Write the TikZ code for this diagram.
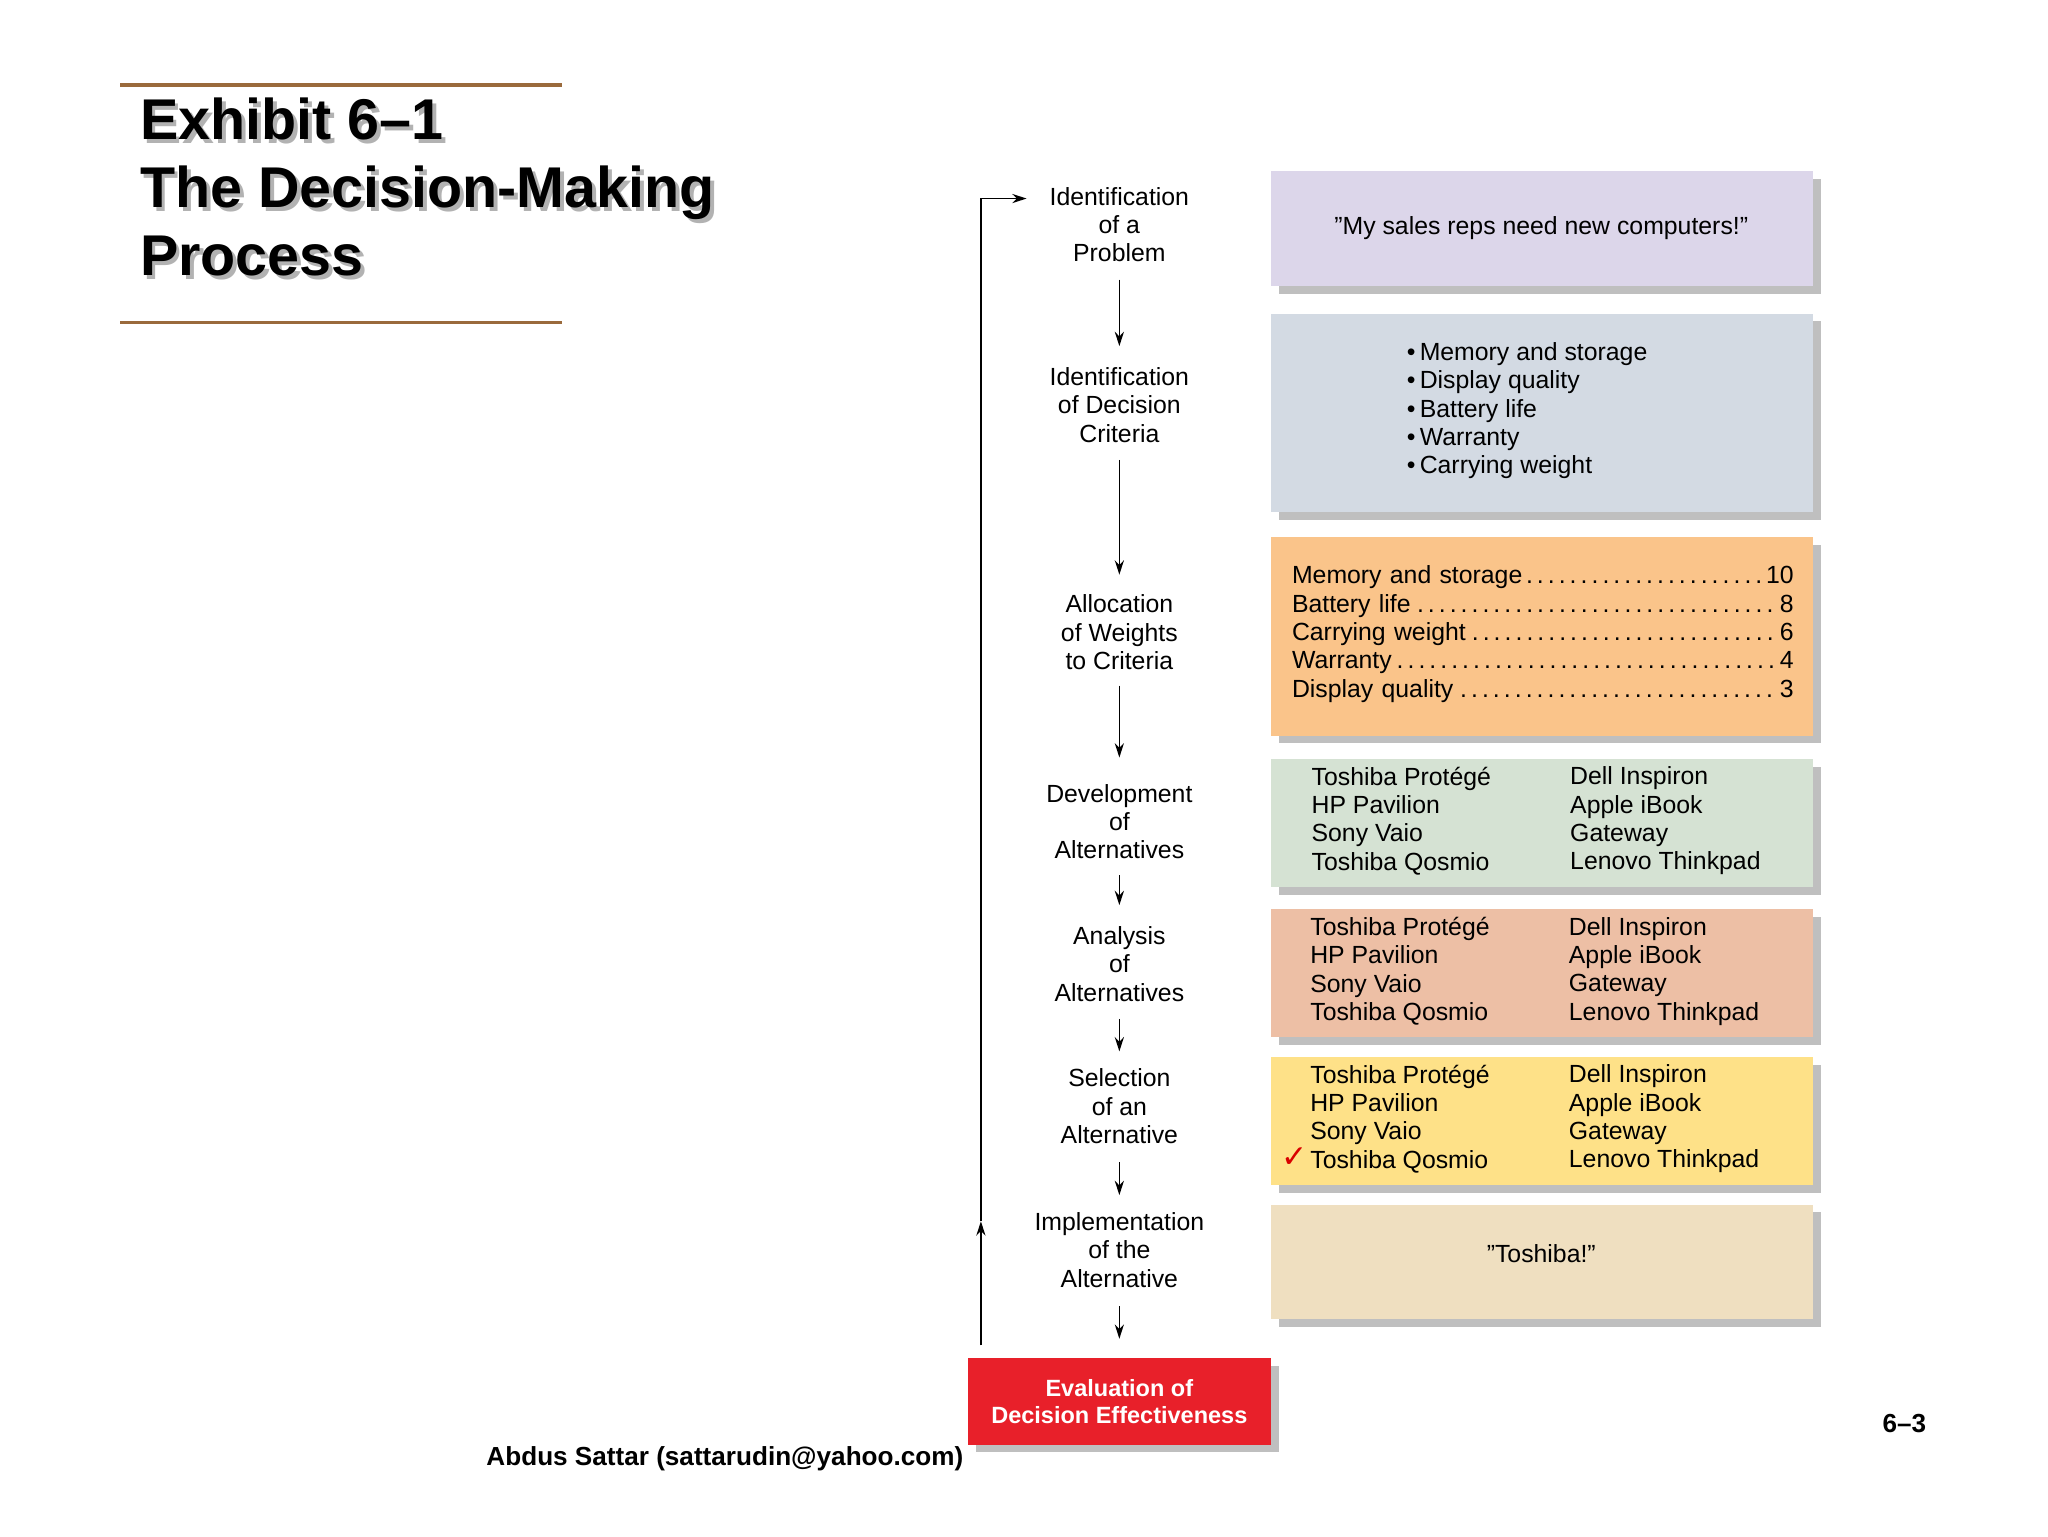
\documentclass[tikz,border=0pt]{standalone}
\usepackage{fontspec}
\setmainfont{Liberation Sans}
\newfontfamily\dejavu{DejaVu Sans}
\usetikzlibrary{arrows.meta}
\definecolor{brownrule}{HTML}{9A6A3C}
\definecolor{cA}{HTML}{DCD6EA}
\definecolor{cB}{HTML}{D3DAE3}
\definecolor{cC}{HTML}{FAC48A}
\definecolor{cD}{HTML}{D5E2D3}
\definecolor{cE}{HTML}{EDBFA5}
\definecolor{cF}{HTML}{FEE188}
\definecolor{cG}{HTML}{EFDFC0}
\definecolor{cRed}{HTML}{E8202A}
\tikzset{
 lbl/.style={align=center,font=\fontsize{19}{21.7}\selectfont,inner sep=0pt},
 txt/.style={align=left,font=\fontsize{19}{21.7}\selectfont,inner sep=0pt,anchor=north west},
 arr/.style={-{Stealth[length=11pt,width=7pt]},line width=1.3pt},
 shad/.style={fill=black!25,draw=none},
}
\newcommand{\pbox}[4]{% name, y1, y2, color
 \fill[shad] (979,#2+6) rectangle (1394,#3+6);
 \node[fill=#4,draw=none,minimum width=415pt,minimum height={(#3-#2)*1pt},inner sep=0pt,anchor=north west] (#1) at (973,#2) {};}
\begin{document}
\begin{tikzpicture}[x=1pt,y=-1pt]
\useasboundingbox (0,0) rectangle (1568,1176);
\fill[white] (0,0) rectangle (1568,1176);
% title
\draw[brownrule,line width=2.5pt] (92,65) -- (430,65);
\draw[brownrule,line width=2.5pt] (92,247) -- (430,247);
\node[anchor=north west,align=left,font=\bfseries\fontsize{44}{52}\selectfont,text=black!30,inner sep=0pt] at (110,78) {Exhibit 6–1\\The Decision-Making\\Process};
\node[anchor=north west,align=left,font=\bfseries\fontsize{44}{52}\selectfont,inner sep=0pt] (title) at (107,75) {Exhibit 6–1\\The Decision-Making\\Process};
% boxes
\pbox{b1}{131}{219}{cA}
\pbox{b2}{240}{392}{cB}
\pbox{b3}{411}{563}{cC}
\pbox{b4}{581}{679}{cD}
\pbox{b5}{696}{794}{cE}
\pbox{b6}{809}{907}{cF}
\pbox{b7}{922}{1010}{cG}
\node[lbl] (t1) at (1180,175) {"My sales reps need new computers!"};
\node[txt] (t2) at (1077,262) {•\,Memory and storage\\•\,Display quality\\•\,Battery life\\•\,Warranty\\•\,Carrying weight};
\node[txt,text width=384pt] (t3) at (989,433) {Memory and storage\dotfill10\\Battery life\dotfill8\\Carrying weight\dotfill6\\Warranty\dotfill4\\Display quality\dotfill3};
\node[txt] (t4a) at (1004,587) {Toshiba Protégé\\HP Pavilion\\Sony Vaio\\Toshiba Qosmio};
\node[txt] (t4b) at (1202,587) {Dell Inspiron\\Apple iBook\\Gateway\\Lenovo Thinkpad};
\node[txt] (t5a) at (1003,702) {Toshiba Protégé\\HP Pavilion\\Sony Vaio\\Toshiba Qosmio};
\node[txt] (t5b) at (1201,702) {Dell Inspiron\\Apple iBook\\Gateway\\Lenovo Thinkpad};
\node[txt] (t6a) at (1003,815) {Toshiba Protégé\\HP Pavilion\\Sony Vaio\\Toshiba Qosmio};
\node[txt] (t6b) at (1201,815) {Dell Inspiron\\Apple iBook\\Gateway\\Lenovo Thinkpad};
\node[inner sep=0pt,text=red!85!black,font=\dejavu\fontsize{24}{24}\selectfont] (chk) at (991,886) {✓};
\node[lbl] (t7) at (1180,960) {"Toshiba!"};
% step labels
\node[lbl] (s1) at (857,172) {Identification\\of a\\Problem};
\node[lbl] (s2) at (857,310) {Identification\\of Decision\\Criteria};
\node[lbl] (s3) at (857,484) {Allocation\\of Weights\\to Criteria};
\node[lbl] (s4) at (857,629) {Development\\of\\Alternatives};
\node[lbl] (s5) at (857,738) {Analysis\\of\\Alternatives};
\node[lbl] (s6) at (857,847) {Selection\\of an\\Alternative};
\node[lbl] (s7) at (857,957) {Implementation\\of the\\Alternative};
\fill[shad] (747,1046) rectangle (979,1112);
\node[fill=cRed,text=white,font=\bfseries\fontsize{18}{20.5}\selectfont,align=center,minimum width=232pt,minimum height=66pt,inner sep=0pt] (s8) at (857,1073) {Evaluation of\\Decision Effectiveness};
% coordinates for arrows
\coordinate (a1) at (857,214); \coordinate (a1e) at (857,265);
\coordinate (a2) at (857,352); \coordinate (a2e) at (857,440);
\coordinate (a3) at (857,525); \coordinate (a3e) at (857,580);
\coordinate (a4) at (857,670); \coordinate (a4e) at (857,693);
\coordinate (a5) at (857,780); \coordinate (a5e) at (857,805);
\coordinate (a6) at (857,890); \coordinate (a6e) at (857,915);
\coordinate (a7) at (857,1000); \coordinate (a7e) at (857,1025);
\draw[arr] (a1) -- (a1e);
\draw[arr] (a2) -- (a2e);
\draw[arr] (a3) -- (a3e);
\draw[arr] (a4) -- (a4e);
\draw[arr] (a5) -- (a5e);
\draw[arr] (a6) -- (a6e);
\draw[arr] (a7) -- (a7e);
% feedback loop
\coordinate (f0) at (751,1030); \coordinate (fm) at (751,935);
\coordinate (f1) at (751,152); \coordinate (f2) at (786,152);
\draw[arr] (f0) -- (fm);
\draw[arr] (fm) -- (f1) -- (f2);
% footer
\node[font=\bfseries\fontsize{20}{22}\selectfont,inner sep=0pt] (foot) at (555,1117) {Abdus Sattar (sattarudin@yahoo.com)};
\node[font=\bfseries\fontsize{20}{22}\selectfont,inner sep=0pt] (pg) at (1458,1090) {6–3};
\end{tikzpicture}
\end{document}
